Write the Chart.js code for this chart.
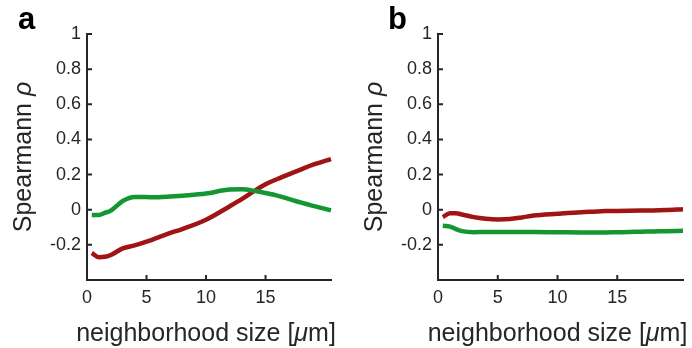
<!DOCTYPE html>
<html>
  <head>
    <style>
      body {
        margin: 0;
        background: #fff;
        font-family: "Liberation Sans", Arial, sans-serif;
      }
      .panel {
        position: absolute;
        top: 0;
        width: 346px;
        height: 348px;
      }
    </style>
    <script src="https://cdn.jsdelivr.net/npm/chart.js"></script>
  </head>
  <body>
    <div class="panel" style="left:0"><canvas id="chartA" width="346" height="348"></canvas></div>
    <div class="panel" style="left:346px"><canvas id="chartB" width="346" height="348"></canvas></div>
    <script>
      // neighborhood size [um] at which values were read
      var sizes = [0.4, 1, 1.5, 2, 3, 4, 5, 6, 7, 8, 10, 12, 13, 14, 15, 16, 17, 18, 19, 20.5];

      // panel a
      var redA = [-0.246, -0.27, -0.268, -0.258, -0.22, -0.203, -0.182, -0.157, -0.132, -0.11,
                  -0.057, 0.02, 0.06, 0.104, 0.145, 0.175, 0.203, 0.23, 0.256, 0.288];
      var greenA = [-0.03, -0.03, -0.018, -0.005, 0.05, 0.073, 0.072, 0.071, 0.075, 0.08,
                    0.092, 0.115, 0.116, 0.108, 0.095, 0.08, 0.06, 0.04, 0.022, -0.004];

      // panel b
      var redB = [-0.042, -0.02, -0.02, -0.027, -0.042, -0.051, -0.055, -0.053, -0.044, -0.033,
                  -0.023, -0.014, -0.011, -0.008, -0.007, -0.006, -0.005, -0.004, -0.002, 0.003];
      var greenB = [-0.091, -0.096, -0.11, -0.122, -0.128, -0.127, -0.127, -0.127, -0.127, -0.127,
                    -0.128, -0.129, -0.129, -0.129, -0.128, -0.127, -0.125, -0.124, -0.122, -0.12];

      var xTicks = [0, 5, 10, 15];
      var yTicks = [-0.4, -0.2, 0, 0.2, 0.4, 0.6, 0.8, 1];

      var RED = '#a01414';
      var GREEN = '#149632';
      var AXIS = '#262626';
      var FONT = '"Liberation Sans", Arial, sans-serif';

      function points(ys) {
        return sizes.map(function(x, i) { return {x: x, y: ys[i]}; });
      }

      function drawParts(ctx, parts, cx, cy) {
        var total = 0;
        parts.forEach(function(p) {
          ctx.font = (p[1] ? 'italic ' : '') + '25px ' + FONT;
          total += ctx.measureText(p[0]).width;
        });
        var x = cx - total / 2;
        parts.forEach(function(p) {
          ctx.font = (p[1] ? 'italic ' : '') + '25px ' + FONT;
          ctx.fillText(p[0], x, cy);
          x += ctx.measureText(p[0]).width;
        });
      }

      // inward ticks, axis titles and panel letter
      var decor = {
        id: 'decor',
        afterDraw: function(chart, args, opts) {
          var ctx = chart.ctx, a = chart.chartArea;
          var xs = chart.scales.x, ys = chart.scales.y;
          ctx.save();
          ctx.strokeStyle = AXIS;
          ctx.lineWidth = 2;
          ctx.beginPath();
          ys.ticks.forEach(function(t) {
            var py = ys.getPixelForValue(t.value);
            ctx.moveTo(a.left, py);
            ctx.lineTo(a.left + 5, py);
          });
          xs.ticks.forEach(function(t) {
            var px = xs.getPixelForValue(t.value);
            ctx.moveTo(px, a.bottom);
            ctx.lineTo(px, a.bottom - 5);
          });
          ctx.stroke();

          ctx.fillStyle = AXIS;
          ctx.textBaseline = 'alphabetic';
          ctx.textAlign = 'left';
          drawParts(ctx, [['neighborhood size [', false], ['\u03bc', true], ['m]', false]],
                    (a.left + a.right) / 2 - 3, 341);

          ctx.save();
          ctx.translate(a.left - 56, (a.top + a.bottom) / 2);
          ctx.rotate(-Math.PI / 2);
          drawParts(ctx, [['Spearmann ', false], ['\u03c1', true]], 0, 0);
          ctx.restore();

          ctx.fillStyle = '#000';
          ctx.font = 'bold 31px ' + FONT;
          ctx.fillText(opts.letter, opts.letterX, 29);
          ctx.restore();
        }
      };

      function makeChart(id, red, green, letter, letterX, axisWidth, padRight) {
        var ctx = document.getElementById(id).getContext('2d');
        return new Chart(ctx, {
          type: 'line',
          data: {
            datasets: [
              {data: points(green), borderColor: GREEN},
              {data: points(red), borderColor: RED}
            ]
          },
          options: {
            responsive: false,
            animation: false,
            layout: {padding: {top: 34, right: padRight, left: 0, bottom: 0}},
            elements: {
              line: {borderWidth: 4.5, cubicInterpolationMode: 'monotone', fill: false},
              point: {radius: 0}
            },
            datasets: {line: {clip: false}},
            plugins: {
              legend: {display: false},
              tooltip: {enabled: false},
              decor: {letter: letter, letterX: letterX}
            },
            scales: {
              x: {
                type: 'linear',
                min: 0,
                max: 20.5,
                afterBuildTicks: function(s) {
                  s.ticks = xTicks.map(function(v) { return {value: v}; });
                },
                afterFit: function(s) { s.height = 68; },
                grid: {display: false, drawTicks: false},
                border: {display: true, color: AXIS, width: 2},
                ticks: {
                  color: AXIS,
                  padding: 7,
                  maxRotation: 0,
                  font: {family: FONT, size: 18}
                }
              },
              y: {
                min: -0.4,
                max: 1,
                afterBuildTicks: function(s) {
                  s.ticks = yTicks.map(function(v) { return {value: v}; });
                },
                afterFit: function(s) { s.width = axisWidth; },
                grid: {display: false, drawTicks: false},
                border: {display: true, color: AXIS, width: 2},
                ticks: {
                  color: AXIS,
                  padding: 6,
                  font: {family: FONT, size: 18},
                  callback: function(v) {
                    if (Math.abs(v + 0.4) < 1e-6) return '';
                    return String(+v.toFixed(1));
                  }
                }
              }
            }
          },
          plugins: [decor]
        });
      }

      makeChart('chartA', redA, greenA, 'a', 18, 87, 15);
      makeChart('chartB', redB, greenB, 'b', 42, 92, 9);
    </script>
  </body>
</html>
